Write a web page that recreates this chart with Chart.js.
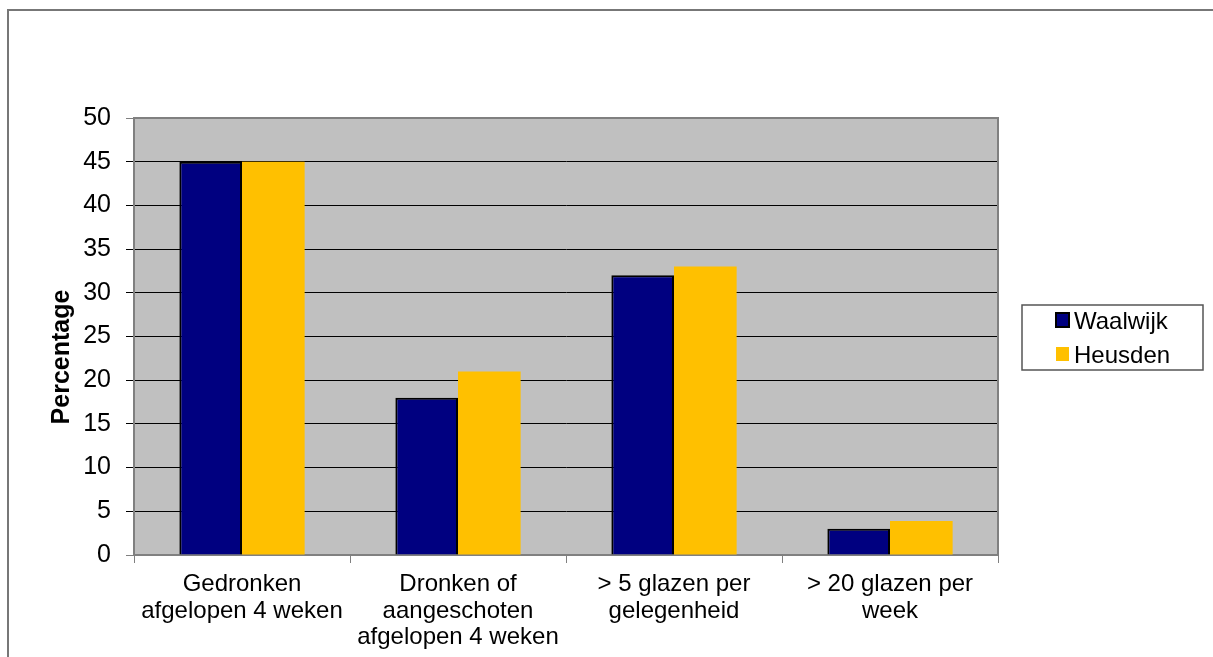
<!DOCTYPE html>
<html>
<head>
<meta charset="utf-8">
<script src="https://cdn.jsdelivr.net/npm/chart.js@4"></script>
<style>
  body { margin: 0; background: #fff; }
  canvas { display: block; }
</style>
</head>
<body>
<canvas id="chart" width="1213" height="657"></canvas>
<script>
// Chart data
const categories = [
  ["Gedronken", "afgelopen 4 weken"],
  ["Dronken of", "aangeschoten", "afgelopen 4 weken"],
  ["> 5 glazen per", "gelegenheid"],
  ["> 20 glazen per", "week"]
];
const seriesNames = ["Waalwijk", "Heusden"];
const waalwijkValues = [45, 18, 32, 3];
const heusdenValues = [45, 21, 33, 3.9];
const yTicks = { min: 0, max: 50, step: 5 };
const yTitle = "Percentage";

const FONT = "'Liberation Sans', Arial, sans-serif";

// background, outer frame, plot frame, axis title and legend
const decorations = {
  id: "decorations",
  beforeDraw(chart) {
    const { ctx, chartArea: a } = chart;
    ctx.save();
    ctx.fillStyle = "#c0c0c0";
    ctx.fillRect(a.left, a.top, a.right - a.left, a.bottom - a.top);
    ctx.restore();
  },
  afterDraw(chart) {
    const { ctx, chartArea: a } = chart;
    ctx.save();
    // outer frame
    ctx.strokeStyle = "#777";
    ctx.lineWidth = 2;
    ctx.strokeRect(8, 10, 1400, 1000);

    // plot frame top and right
    ctx.strokeStyle = "#808080";
    ctx.beginPath();
    ctx.moveTo(a.left, a.top);
    ctx.lineTo(a.right, a.top);
    ctx.lineTo(a.right, a.bottom);
    ctx.stroke();

    // y axis title
    ctx.fillStyle = "#000";
    ctx.font = "bold 25px " + FONT;
    ctx.textAlign = "center";
    ctx.textBaseline = "alphabetic";
    ctx.translate(69, 357);
    ctx.rotate(-Math.PI / 2);
    ctx.fillText(yTitle, 0, 0);
    ctx.restore();

    // legend
    ctx.save();
    ctx.fillStyle = "#fff";
    ctx.fillRect(1022, 305, 181, 65);
    ctx.strokeStyle = "#555";
    ctx.lineWidth = 1.5;
    ctx.strokeRect(1022, 305, 181, 65);
    ctx.font = "24px " + FONT;
    ctx.textAlign = "left";
    ctx.textBaseline = "alphabetic";
    chart.data.datasets.forEach((ds, i) => {
      const y = 313 + i * 34;
      ctx.fillStyle = ds.backgroundColor;
      ctx.fillRect(1056, y, 13, 14);
      if (ds.borderWidth) {
        ctx.strokeStyle = "#000";
        ctx.lineWidth = 2;
        ctx.strokeRect(1056, y, 13, 14);
      }
      ctx.fillStyle = "#000";
      ctx.fillText(ds.label, 1074, y + 16);
    });
    ctx.restore();
  }
};

new Chart(document.getElementById("chart"), {
  type: "bar",
  data: {
    labels: categories,
    datasets: [
      {
        label: seriesNames[0],
        data: waalwijkValues,
        backgroundColor: "#000080",
        borderColor: "#000",
        borderWidth: 2
      },
      {
        label: seriesNames[1],
        data: heusdenValues,
        backgroundColor: "#ffc000",
        borderWidth: 0
      }
    ]
  },
  options: {
    responsive: false,
    animation: false,
    layout: { padding: { top: 118, right: 215, bottom: 0, left: 0 } },
    datasets: {
      bar: { categoryPercentage: 0.58, barPercentage: 1.0 }
    },
    plugins: {
      legend: { display: false },
      tooltip: { enabled: false }
    },
    scales: {
      x: {
        afterFit(scale) { scale.height = 102; },
        grid: {
          drawOnChartArea: false,
          drawTicks: true,
          tickLength: 8,
          color: "#808080"
        },
        border: { color: "#808080", width: 2 },
        ticks: {
          color: "#000",
          padding: 8,
          maxRotation: 0,
          autoSkip: false,
          font: { family: FONT, size: 24, lineHeight: 1.11 }
        }
      },
      y: {
        min: yTicks.min,
        max: yTicks.max,
        afterFit(scale) { scale.width = 134; },
        grid: {
          drawTicks: true,
          tickLength: 8,
          lineWidth: 1,
          color: ctx => (ctx.tick && (ctx.tick.value === yTicks.max || ctx.tick.value === yTicks.min)) ? "#808080" : "#000"
        },
        border: { color: "#808080", width: 2 },
        ticks: {
          stepSize: yTicks.step,
          color: "#000",
          padding: 15,
          font: { family: FONT, size: 25 }
        }
      }
    }
  },
  plugins: [decorations]
});
</script>
</body>
</html>
